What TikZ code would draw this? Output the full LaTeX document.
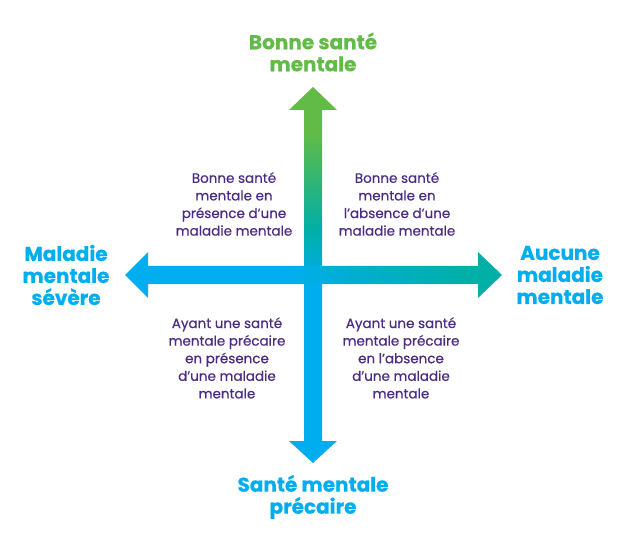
\documentclass[tikz,border=0pt]{standalone}
\usepackage{fontspec}
\setmainfont{Poppins}
\definecolor{cgreen}{HTML}{62BB46}
\definecolor{cteal}{HTML}{00AFA6}
\definecolor{cblue}{HTML}{00AEEF}
\definecolor{cpurple}{HTML}{4A2C83}
\pgfdeclareverticalshading{vgrad}{100bp}{color(0bp)=(cblue); color(49bp)=(cblue); color(56bp)=(cteal); color(69bp)=(cgreen); color(100bp)=(cgreen)}
\pgfdeclarehorizontalshading{hgrad}{100bp}{color(0bp)=(cblue); color(46bp)=(cblue); color(70bp)=(cteal); color(100bp)=(cteal)}
\begin{document}
\begin{tikzpicture}[x=1pt,y=-1pt,
  axislabel/.style={font=\fontsize{20}{22}\selectfont\bfseries\addfontfeatures{FakeBold=0.6}, align=center, inner sep=0pt},
  quadtext/.style={text=cpurple, font=\fontsize{13.5}{17.6}\selectfont\addfontfeatures{FakeBold=0.5}, align=center, inner sep=0pt}]
\useasboundingbox (0,0) rectangle (624,540);
% vertical arrow
\shade[shading=vgrad]
  (313,87) -- (337,110) -- (322,110) -- (322,441) -- (337,441) -- (313,463)
  -- (289,441) -- (304,441) -- (304,110) -- (289,110) -- cycle;
% horizontal arrow
\shade[shading=hgrad]
  (125,275) -- (148,252) -- (148,266) -- (478,266) -- (478,252) -- (502,275)
  -- (478,298) -- (478,284) -- (148,284) -- (148,298) -- cycle;
\node[axislabel, text=cgreen] (top) at (313,52) {Bonne santé\\mentale};
\node[axislabel, text=cblue] (bottom) at (313,497) {Santé mentale\\précaire};
\node[axislabel, text=cblue] (left) at (66,275) {Maladie\\mentale\\sévère};
\node[axislabel, text=cblue] (right) at (560,275) {Aucune\\maladie\\mentale};
\node[quadtext] (q1) at (234,204) {Bonne santé\\mentale en\\présence d’une\\maladie mentale};
\node[quadtext] (q2) at (397,204) {Bonne santé\\mentale en\\l’absence d’une\\maladie mentale};
\node[quadtext] (q3) at (227,358) {Ayant une santé\\mentale précaire\\en présence\\d’une maladie\\mentale};
\node[quadtext] (q4) at (401,358) {Ayant une santé\\mentale précaire\\en l’absence\\d’une maladie\\mentale};
\end{tikzpicture}
\end{document}
